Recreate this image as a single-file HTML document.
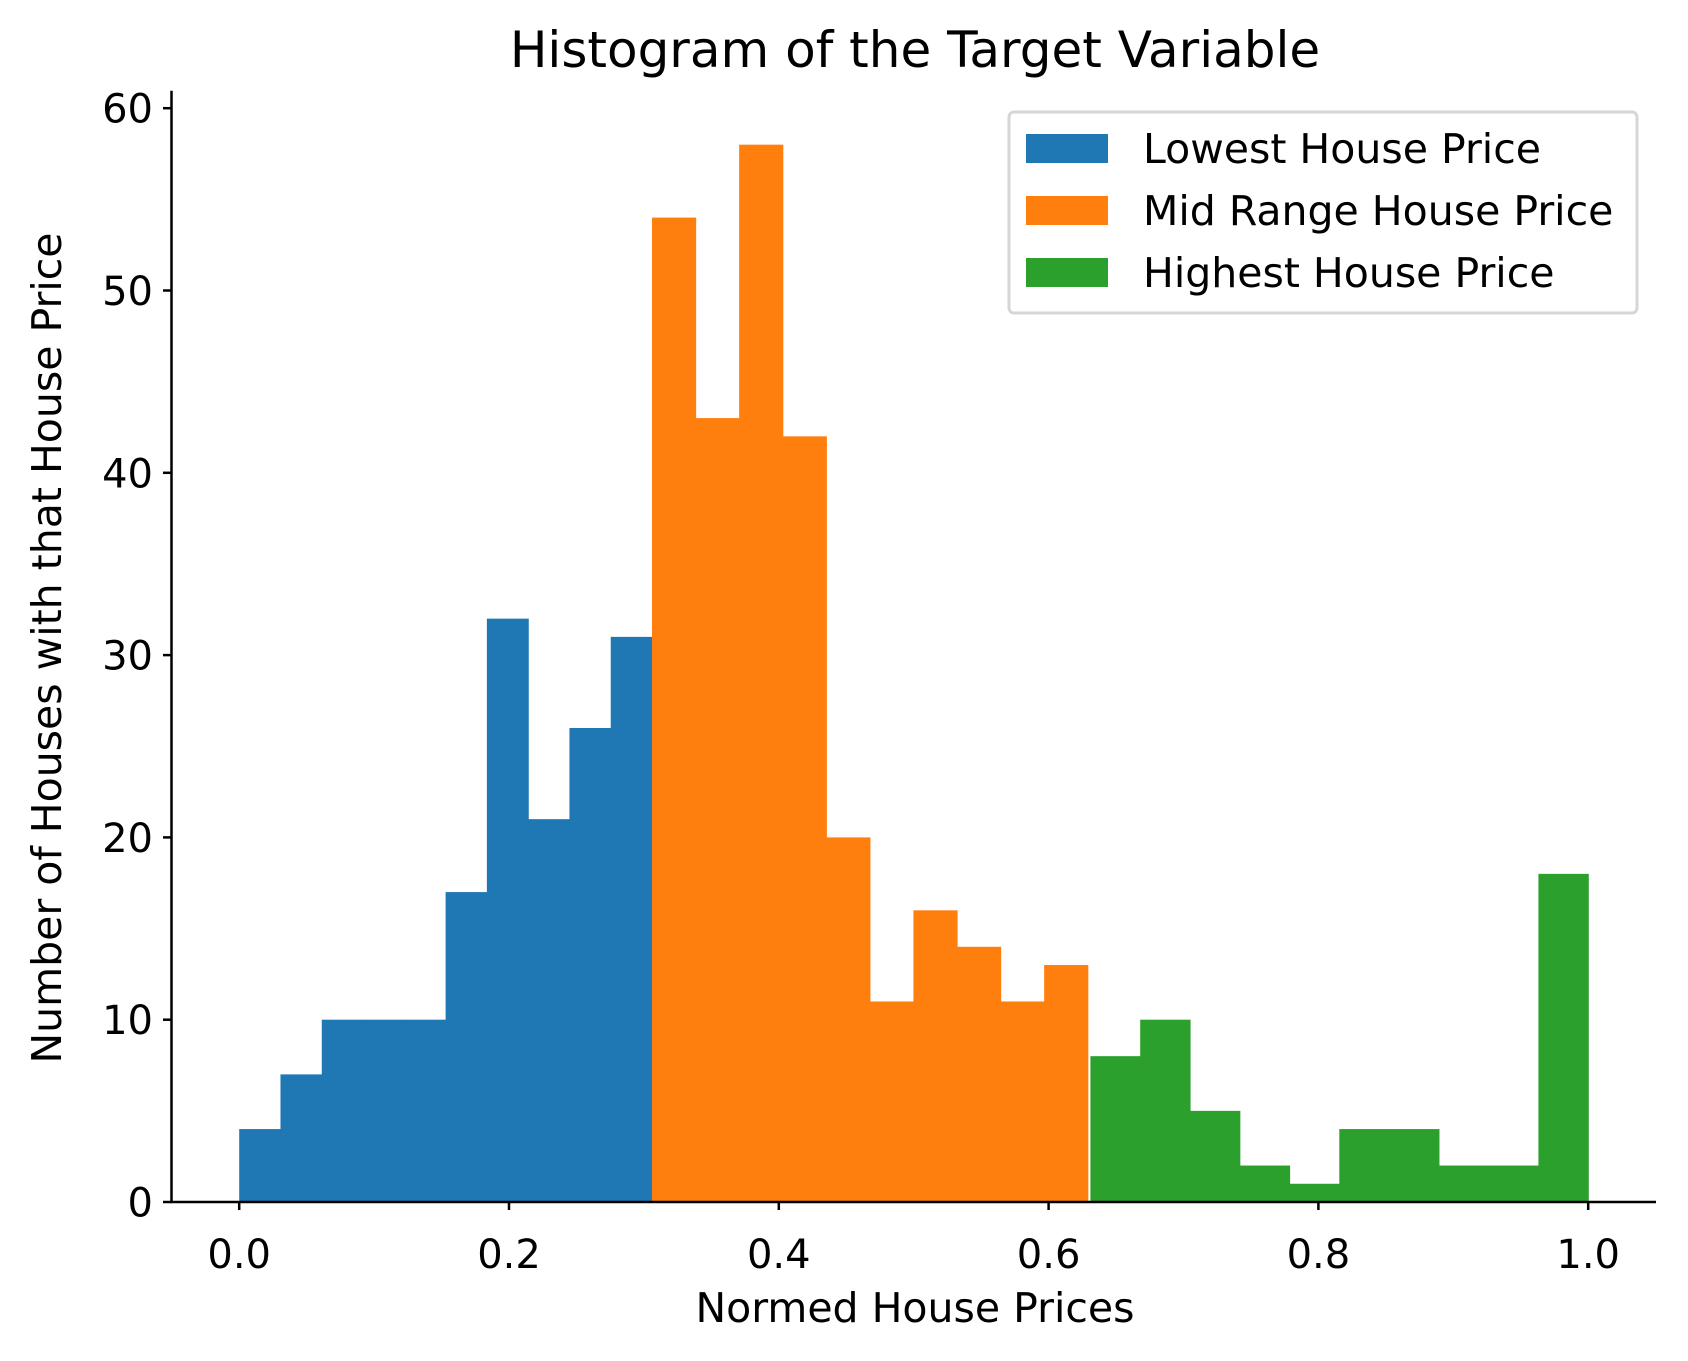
<!DOCTYPE html>
<html><head><meta charset="utf-8"><style>
html,body{margin:0;padding:0;background:#fff}
svg{display:block;font-family:"DejaVu Sans","Liberation Sans",sans-serif}
</style></head><body>
<svg id="chart" width="1688" height="1361" viewBox="0 0 1688 1361">
<text x="915" y="67" font-size="50" text-anchor="middle">Histogram of the Target Variable</text>
<g id="bars"></g>
<g id="axes"></g>
<text x="915" y="1322" font-size="41" text-anchor="middle">Normed House Prices</text>
<text transform="translate(61,648) rotate(-90)" font-size="41" text-anchor="middle">Number of Houses with that House Price</text>
<g>
<rect x="1009" y="112" width="628" height="201" rx="5" fill="#fff" stroke="#d6d6d6" stroke-width="3"/>
<rect x="1026" y="134" width="82" height="29" fill="#1f77b4"/>
<text x="1143" y="163" font-size="41">Lowest House Price</text>
<rect x="1026" y="196" width="82" height="29" fill="#ff7f0e"/>
<text x="1143" y="225" font-size="41">Mid Range House Price</text>
<rect x="1026" y="258" width="82" height="29" fill="#2ca02c"/>
<text x="1143" y="287" font-size="41">Highest House Price</text>
</g>
</svg>
<script>
const lowCounts=[4,7,10,10,10,17,32,21,26,31];
const midCounts=[54,43,58,42,20,11,16,14,11,13];
const highCounts=[8,10,5,2,1,4,4,2,2,18];
const lowRange=[0,0.306];
const midRange=[0.306,0.629];
const highRange=[0.631,1.0];
const xTicks=[0,0.2,0.4,0.6,0.8,1.0];
const xTickLabels=["0.0","0.2","0.4","0.6","0.8","1.0"];
const yTicks=[0,10,20,30,40,50,60];

const NS="http://www.w3.org/2000/svg";
const X0=239.2,XS=1349,Y0=1202,YS=18.23;
function xs(v){return X0+v*XS}
function ys(v){return Y0-v*YS}
const bars=document.getElementById('bars');
function drawSeries(counts,range,color,name){
  const w=(range[1]-range[0])/counts.length;
  counts.forEach((c,i)=>{
    const r=document.createElementNS(NS,'rect');
    const a=xs(range[0]+i*w),b=xs(range[0]+(i+1)*w);
    r.setAttribute('x',a);r.setAttribute('width',b-a+0.6);
    r.setAttribute('y',ys(c));r.setAttribute('height',ys(0)-ys(c));
    r.setAttribute('fill',color);
    
    
    bars.appendChild(r);
  });
}
drawSeries(lowCounts,lowRange,'#1f77b4','lowest');
drawSeries(midCounts,midRange,'#ff7f0e','mid');
drawSeries(highCounts,highRange,'#2ca02c','highest');

const axes=document.getElementById('axes');
function line(x1,y1,x2,y2,name){
  const l=document.createElementNS(NS,'line');
  l.setAttribute('x1',x1);l.setAttribute('y1',y1);l.setAttribute('x2',x2);l.setAttribute('y2',y2);
  l.setAttribute('stroke','#000');l.setAttribute('stroke-width','2.5');
  
  
  axes.appendChild(l);
}
function text(x,y,s,anchor,name){
  const t=document.createElementNS(NS,'text');
  t.setAttribute('x',x);t.setAttribute('y',y);t.setAttribute('font-size','40');
  t.setAttribute('text-anchor',anchor);t.textContent=s;
  
  
  axes.appendChild(t);
}
line(171.5,90.7,171.5,Y0+1,'y-axis-spine');
line(170,Y0,1656,Y0,'x-axis-spine');
xTicks.forEach((v,i)=>{line(xs(v),Y0,xs(v),Y0+8,'x-tick');text(xs(v),Y0+66,xTickLabels[i],'middle','x-tick-label');});
yTicks.forEach(v=>{line(163,ys(v),171.5,ys(v),'y-tick');text(153,ys(v)+14.5,String(v),'end','y-tick-label');});
</script>
</body></html>
